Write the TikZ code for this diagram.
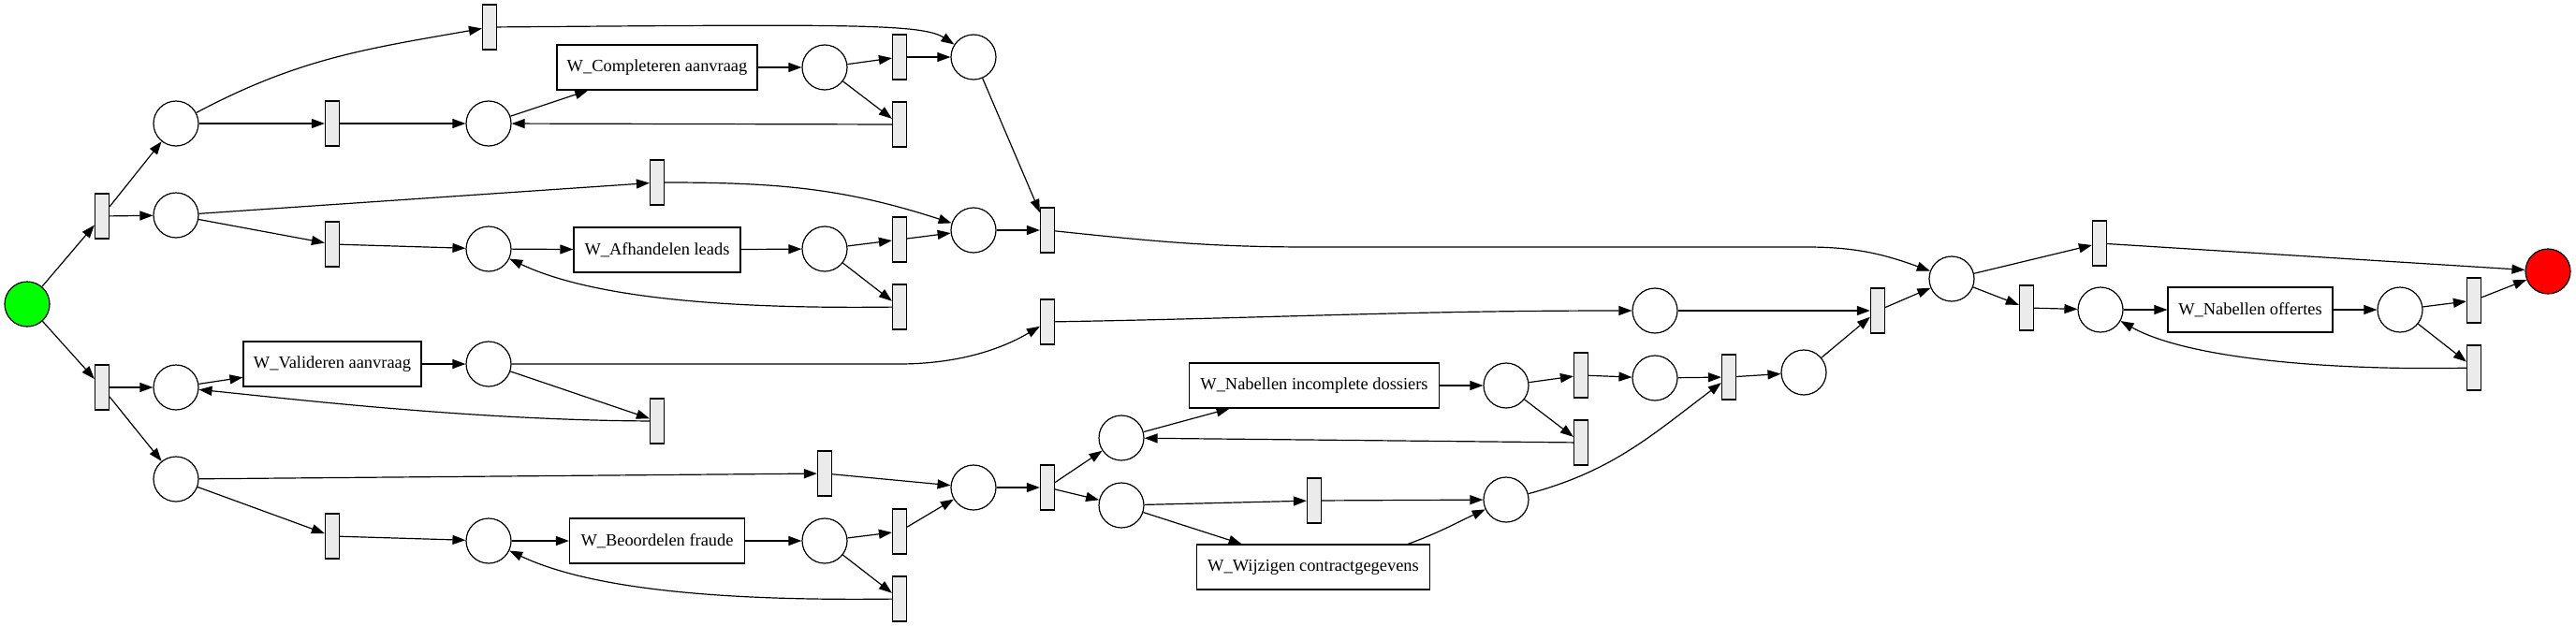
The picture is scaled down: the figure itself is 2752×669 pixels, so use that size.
\documentclass[tikz,border=0pt]{standalone}
\usepackage{fontspec}
\setmainfont{Liberation Serif}
\usetikzlibrary{arrows.meta}
\definecolor{transgray}{RGB}{235,235,235}
\definecolor{startgreen}{RGB}{0,255,0}
\definecolor{endred}{RGB}{255,0,0}
\begin{document}
\begin{tikzpicture}[x=0.5pt,y=0.5pt,line width=0.6pt,
  place/.style={circle,draw,minimum size=24pt,inner sep=0pt},
  trans/.style={rectangle,draw,fill=transgray,minimum width=7.5pt,minimum height=24pt,inner sep=0pt},
  task/.style={rectangle,draw,minimum height=24pt,inner sep=0pt,font=\fontsize{9.2}{11}\selectfont},
  arc/.style={-{Triangle[length=7pt,width=5pt]}}]
\useasboundingbox (0,0) rectangle (2752,-669);
% nodes
\node[place,fill=startgreen] (s) at (29,-325) {};
\node[trans] (t1) at (109,-231) {};
\node[trans] (t2) at (109,-414) {};
\node[place] (pa) at (188,-132) {};
\node[place] (pb) at (188,-230) {};
\node[place] (pc) at (188,-414) {};
\node[place] (pd) at (188,-512) {};
\node[trans] (ttop) at (523,-29) {};
\node[trans] (t3) at (355,-132) {};
\node[place] (pe) at (522,-132) {};
\node[task,minimum width=107pt] (wc) at (702,-72) {W\_Completeren aanvraag};
\node[place] (q1) at (881,-72) {};
\node[trans] (t6) at (961,-61) {};
\node[trans] (t7) at (961,-133) {};
\node[place] (q2) at (1040,-61) {};
\node[trans] (t8) at (702,-195) {};
\node[trans] (t4) at (355,-261) {};
\node[place] (pf) at (522,-266) {};
\node[task,minimum width=89pt] (wa) at (702,-267) {W\_Afhandelen leads};
\node[place] (q3) at (881,-266) {};
\node[trans] (t9) at (961,-256) {};
\node[trans] (t10) at (961,-328) {};
\node[place] (q5) at (1040,-246) {};
\node[trans] (tj) at (1119,-246) {};
\node[trans] (t11) at (1119,-344) {};
\node[task,minimum width=95pt] (wv) at (355,-389) {W\_Valideren aanvraag};
\node[place] (pg) at (522,-389) {};
\node[trans] (t12) at (702,-450) {};
\node[trans] (t5) at (355,-573) {};
\node[place] (ph) at (522,-578) {};
\node[task,minimum width=93.5pt] (wb) at (702,-578) {W\_Beoordelen fraude};
\node[place] (q4) at (881,-578) {};
\node[trans] (t13) at (961,-568) {};
\node[trans] (t14) at (961,-640) {};
\node[trans] (t15) at (881,-506) {};
\node[place] (q6) at (1040,-521) {};
\node[trans] (t16) at (1119,-521) {};
\node[place] (n1) at (1198,-468) {};
\node[place] (n2) at (1198,-540) {};
\node[task,minimum width=133.5pt] (wn) at (1404,-412) {W\_Nabellen incomplete dossiers};
\node[place] (r1) at (1609,-412) {};
\node[trans] (t17) at (1689,-401) {};
\node[trans] (t18) at (1689,-473) {};
\node[place] (r2) at (1768,-404) {};
\node[trans] (t19) at (1847,-403) {};
\node[place] (r3) at (1927,-398) {};
\node[trans] (t20) at (1404,-535) {};
\node[place] (r4) at (1609,-534) {};
\node[task,minimum width=124.5pt] (ww) at (1403,-606) {W\_Wijzigen contractgegevens};
\node[place] (r5) at (1768,-332) {};
\node[trans] (t21) at (2006,-332) {};
\node[place] (u1) at (2085,-298) {};
\node[trans] (t22) at (2243,-260) {};
\node[trans] (t23) at (2165,-329) {};
\node[place] (u2) at (2244,-331) {};
\node[task,minimum width=88pt] (wo) at (2404,-331) {W\_Nabellen offertes};
\node[place] (u3) at (2564,-331) {};
\node[trans] (t24) at (2643,-321) {};
\node[trans] (t25) at (2643,-393) {};
\node[place,fill=endred] (e) at (2722,-290) {};
% arcs
\draw[arc] (s) -- (t1);
\draw[arc] (s) -- (t2);
\draw[arc] (t1) -- (pa);
\draw[arc] (t1) -- (pb);
\draw[arc] (t2) -- (pc);
\draw[arc] (t2) -- (pd);
\draw[arc] (pa) to[out=28,in=190] (ttop);
\draw[arc] (pa) -- (t3);
\draw[arc] (t3) -- (pe);
\draw[arc] (pe) -- (wc);
\draw[arc] (wc) -- (q1);
\draw[arc] (q1) -- (t6);
\draw[arc] (q1) -- (t7);
\draw[arc] (t6) -- (q2);
\draw[arc] (t7) -- (pe);
\draw[arc] (ttop) .. controls (900,-26) and (985,-25) .. (q2);
\draw[arc] (q2) -- (tj);
\draw[arc] (pb) -- (t8);
\draw[arc] (t8) to[out=0,in=162] (q5);
\draw[arc] (pb) -- (t4);
\draw[arc] (t4) -- (pf);
\draw[arc] (pf) -- (wa);
\draw[arc] (wa) -- (q3);
\draw[arc] (q3) -- (t9);
\draw[arc] (q3) -- (t10);
\draw[arc] (t9) -- (q5);
\draw[arc] (t10) .. controls (800,-330) and (640,-322) .. (pf);
\draw[arc] (q5) -- (tj);
\draw[arc] (tj) to[out=-6,in=180] (1400,-264) -- (1930,-264) to[out=0,in=160] (u1);
\draw[arc] (pc) -- (wv);
\draw[arc] (wv) -- (pg);
\draw[arc] (pg) -- (960,-389) .. controls (1030,-389) and (1075,-370) .. (t11);
\draw[arc] (pg) -- (t12);
\draw[arc] (t12) .. controls (500,-449) and (300,-425) .. (pc);
\draw[arc] (pd) -- (t15);
\draw[arc] (pd) -- (t5);
\draw[arc] (t5) -- (ph);
\draw[arc] (ph) -- (wb);
\draw[arc] (wb) -- (q4);
\draw[arc] (q4) -- (t13);
\draw[arc] (q4) -- (t14);
\draw[arc] (t13) -- (q6);
\draw[arc] (t14) .. controls (800,-642) and (640,-634) .. (ph);
\draw[arc] (t15) -- (q6);
\draw[arc] (q6) -- (t16);
\draw[arc] (t16) -- (n1);
\draw[arc] (t16) -- (n2);
\draw[arc] (n1) -- (wn);
\draw[arc] (wn) -- (r1);
\draw[arc] (r1) -- (t17);
\draw[arc] (r1) -- (t18);
\draw[arc] (t18) -- (n1);
\draw[arc] (t17) -- (r2);
\draw[arc] (r2) -- (t19);
\draw[arc] (t19) -- (r3);
\draw[arc] (n2) -- (t20);
\draw[arc] (t20) -- (r4);
\draw[arc] (n2) -- (ww);
\draw[arc] ([xshift=-12pt]ww.north east) to[out=20,in=205] (r4);
\draw[arc] (r4) to[out=15,in=217] (t19);
\draw[arc] (r3) -- (t21);
\draw[arc] (t11) to[out=1,in=180] (r5);
\draw[arc] (r5) -- (t21);
\draw[arc] (t21) -- (u1);
\draw[arc] (u1) -- (t22);
\draw[arc] (u1) -- (t23);
\draw[arc] (t22) -- (e);
\draw[arc] (t23) -- (u2);
\draw[arc] (u2) -- (wo);
\draw[arc] (wo) -- (u3);
\draw[arc] (u3) -- (t24);
\draw[arc] (u3) -- (t25);
\draw[arc] (t24) -- (e);
\draw[arc] (t25) .. controls (2500,-396) and (2340,-385) .. (u2);
\end{tikzpicture}
\end{document}
